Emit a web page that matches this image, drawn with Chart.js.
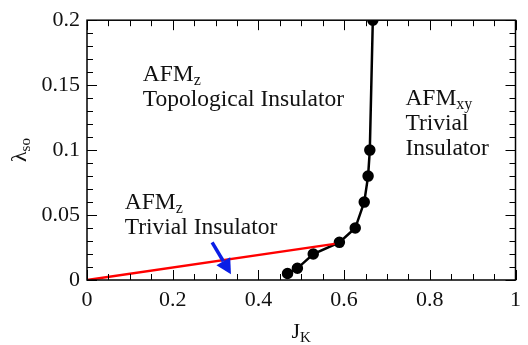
<!DOCTYPE html>
<html>
<head>
<meta charset="utf-8">
<script src="https://cdn.jsdelivr.net/npm/chart.js@4"></script>
<style>
    html, body { margin: 0; padding: 0; background: #fff; }
    #wrap { width: 528px; height: 345px; }
</style>
</head>
<body>
<div id="wrap"><canvas id="phaseChart" width="528" height="345"></canvas></div>
<script>
// Phase boundary (black, with markers)
const boundaryJK = [0.468, 0.491, 0.528, 0.589, 0.626, 0.647, 0.656, 0.660, 0.667];
const boundaryLambda = [0.005, 0.009, 0.020, 0.029, 0.040, 0.060, 0.080, 0.100, 0.200];

// Red line from origin
const redJK = [0, 0.578];
const redLambda = [0, 0.0278];

// Blue arrow (tail -> head), in data units
const arrowJK = [0.292, 0.336];
const arrowLambda = [0.029, 0.0045];

// Axis ticks
const xTicks = [0, 0.2, 0.4, 0.6, 0.8, 1];
const yTicks = [0, 0.05, 0.1, 0.15, 0.2];
const xMinorStep = 0.05;
const yMinorStep = 0.01;

// Region labels: [x, y, lines]
const regionLabels = [
    { x: 0.13, y: 0.153, lines: [['AFM', 'z'], ['Topological Insulator']] },
    { x: 0.743, y: 0.135, lines: [['AFM', 'xy'], ['Trivial'], ['Insulator']] },
    { x: 0.088, y: 0.0545, lines: [['AFM', 'z'], ['Trivial Insulator']] }
];

const FONT = '"Liberation Serif", "Times New Roman", serif';
const FS = 22;
const LABEL_FS = 23.5;

function toPoints(xs, ys) {
    return xs.map((x, i) => ({ x: x, y: ys[i] }));
}

// draw text with optional subscript
function drawSub(ctx, main, sub, x, y, align, size) {
    const fs = size || FS;
    ctx.font = fs + 'px ' + FONT;
    const w1 = ctx.measureText(main).width;
    ctx.font = Math.round(fs * 0.68) + 'px ' + FONT;
    const w2 = sub ? ctx.measureText(sub).width : 0;
    let x0 = x;
    if (align === 'center') x0 = x - (w1 + w2) / 2;
    ctx.textAlign = 'left';
    ctx.textBaseline = 'alphabetic';
    ctx.font = fs + 'px ' + FONT;
    ctx.fillText(main, x0, y);
    if (sub) {
        ctx.font = Math.round(fs * 0.68) + 'px ' + FONT;
        ctx.fillText(sub, x0 + w1, y + 4);
    }
}

const framePlugin = {
    id: 'frame',
    afterDraw(chart) {
        const ctx = chart.ctx;
        const a = chart.chartArea;
        const xs = chart.scales.x;
        const ys = chart.scales.y;
        ctx.save();
        ctx.strokeStyle = '#000';
        ctx.lineWidth = 1.5;
        ctx.strokeRect(a.left, a.top, a.right - a.left, a.bottom - a.top);

        // inside ticks on all four sides
        ctx.lineWidth = 1;
        ctx.beginPath();
        for (let v = 0; v <= 1.0001; v += xMinorStep) {
            const px = Math.round(xs.getPixelForValue(v)) + 0.5;
            const major = xTicks.some(t => Math.abs(t - v) < 1e-6);
            const len = major ? 10 : 6;
            ctx.moveTo(px, a.bottom); ctx.lineTo(px, a.bottom - len);
            ctx.moveTo(px, a.top); ctx.lineTo(px, a.top + len);
        }
        for (let v = 0; v <= 0.2001; v += yMinorStep) {
            const py = Math.round(ys.getPixelForValue(v)) + 0.5;
            const major = yTicks.some(t => Math.abs(t - v) < 1e-6);
            const len = major ? 10 : 6;
            ctx.moveTo(a.left, py); ctx.lineTo(a.left + len, py);
            ctx.moveTo(a.right, py); ctx.lineTo(a.right - len, py);
        }
        ctx.stroke();

        // blue arrow
        const x1 = xs.getPixelForValue(arrowJK[0]), y1 = ys.getPixelForValue(arrowLambda[0]);
        const x2 = xs.getPixelForValue(arrowJK[1]), y2 = ys.getPixelForValue(arrowLambda[1]);
        const ang = Math.atan2(y2 - y1, x2 - x1);
        const head = 15, hw = 8;
        const bx = x2 - head * Math.cos(ang), by = y2 - head * Math.sin(ang);
        ctx.strokeStyle = '#0a1ee6';
        ctx.fillStyle = '#0a1ee6';
        ctx.lineWidth = 3.5;
        ctx.beginPath();
        ctx.moveTo(x1, y1); ctx.lineTo(bx, by);
        ctx.stroke();
        ctx.beginPath();
        ctx.moveTo(x2, y2);
        ctx.lineTo(bx + hw * Math.sin(ang), by - hw * Math.cos(ang));
        ctx.lineTo(bx - hw * Math.sin(ang), by + hw * Math.cos(ang));
        ctx.closePath();
        ctx.fill();

        // region labels
        ctx.fillStyle = '#111';
        regionLabels.forEach(lab => {
            const px = xs.getPixelForValue(lab.x);
            const py = ys.getPixelForValue(lab.y);
            lab.lines.forEach((ln, i) => {
                drawSub(ctx, ln[0], ln[1], px, py + i * 25, 'left', LABEL_FS);
            });
        });

        // axis titles
        drawSub(ctx, 'J', 'K', (a.left + a.right) / 2, 338, 'center');
        ctx.translate(26, (a.top + a.bottom) / 2);
        ctx.rotate(-Math.PI / 2);
        drawSub(ctx, 'λ', 'so', 0, 0, 'center');
        ctx.restore();
    }
};

const ctx = document.getElementById('phaseChart').getContext('2d');
new Chart(ctx, {
    type: 'scatter',
    data: {
        datasets: [
            {
                data: toPoints(redJK, redLambda),
                showLine: true,
                borderColor: '#ff0000',
                borderWidth: 2.5,
                pointRadius: 0
            },
            {
                data: toPoints(boundaryJK, boundaryLambda),
                showLine: true,
                borderColor: '#000',
                backgroundColor: '#000',
                borderWidth: 2.5,
                pointRadius: 4.5,
                pointHoverRadius: 4.5
            }
        ]
    },
    options: {
        responsive: false,
        animation: false,
        events: [],
        layout: { padding: { top: 17, right: 7, left: 0, bottom: 0 } },
        plugins: {
            legend: { display: false },
            tooltip: { enabled: false }
        },
        scales: {
            x: {
                type: 'linear',
                min: 0,
                max: 1,
                afterBuildTicks: s => { s.ticks = xTicks.map(v => ({ value: v })); },
                afterFit: s => { s.height = 65; },
                grid: { display: false, drawTicks: false },
                border: { display: false },
                ticks: {
                    color: '#111',
                    padding: 7,
                    font: { family: FONT, size: FS },
                    callback: v => String(+v.toFixed(2))
                }
            },
            y: {
                type: 'linear',
                min: 0,
                max: 0.2,
                afterBuildTicks: s => { s.ticks = yTicks.map(v => ({ value: v })); },
                afterFit: s => { s.width = 87; },
                grid: { display: false, drawTicks: false },
                border: { display: false },
                ticks: {
                    color: '#111',
                    padding: 7,
                    font: { family: FONT, size: FS },
                    callback: v => String(+v.toFixed(2))
                }
            }
        }
    },
    plugins: [framePlugin]
});
</script>
</body>
</html>
